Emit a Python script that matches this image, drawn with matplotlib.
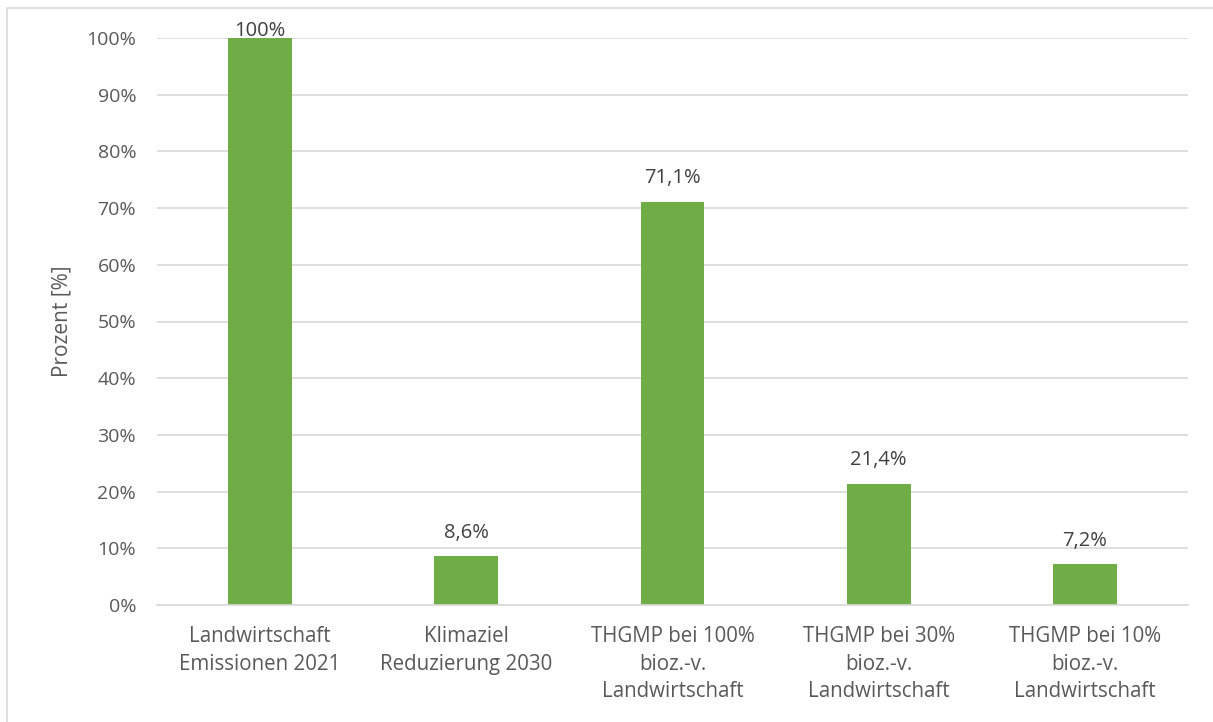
import numpy as np
import matplotlib.pyplot as plt
from matplotlib.patches import Rectangle

# data
categories = ["Landwirtschaft\nEmissionen 2021",
              "Klimaziel\nReduzierung 2030",
              "THGMP bei 100%\nbioz.-v.\nLandwirtschaft",
              "THGMP bei 30%\nbioz.-v.\nLandwirtschaft",
              "THGMP bei 10%\nbioz.-v.\nLandwirtschaft"]
values = [100.0, 8.6, 71.1, 21.4, 7.2]
value_labels = ["100%", "8,6%", "71,1%", "21,4%", "7,2%"]
yticks = np.arange(0, 101, 10)

text_col = "#595959"
grid_col = "#d9d9d9"
bar_col = "#70ad47"

plt.rcParams['font.family'] = ['Open Sans', 'DejaVu Sans']

W, H = 1213, 722
fig = plt.figure(figsize=(W / 100, H / 100), dpi=100)
# axes placed in pixel terms: x 157..1188, y 38..605
ax = fig.add_axes([157 / W, 1 - 605 / H, (1188 - 157) / W, (605 - 38) / H])

x = np.arange(len(categories))
ax.bar(x, values, width=0.31, color=bar_col, zorder=3)

for xi, v, lab in zip(x, values, value_labels):
    # labels sit above the bar, but stay inside the plot at the top
    ax.text(xi, min(v + 2.4, 99.5), lab, ha='center', va='bottom',
            fontsize=14.5, color='#404040', clip_on=False)

ax.set_xlim(-0.5, len(categories) - 0.5)
ax.set_ylim(0, 100)
ax.set_yticks(yticks)
ax.set_yticklabels([f"{t}%" for t in yticks], fontsize=14, color=text_col)
ax.set_xticks(x)
ax.set_xticklabels(categories, fontsize=14.8, color=text_col, linespacing=1.42)
ax.tick_params(axis='both', length=0)
ax.tick_params(axis='y', pad=15)
ax.tick_params(axis='x', pad=15)

ax.grid(axis='y', color=grid_col, linewidth=1.2, zorder=0)
for s in ['top', 'right', 'left']:
    ax.spines[s].set_visible(False)
ax.spines['bottom'].set_color(grid_col)
ax.spines['bottom'].set_linewidth(1.2)
ax.spines['bottom'].set_zorder(4)

ax.set_ylabel("Prozent [%]", fontsize=15, color=text_col, labelpad=10)

# outer chart frame (cut off at right and bottom)
fig.patches.append(Rectangle((7 / W, -0.05), 1.1, 1 - 8 / H + 0.05,
                             transform=fig.transFigure, fill=False,
                             edgecolor=grid_col, linewidth=1.2))

fig.savefig("out.png", dpi=100)
